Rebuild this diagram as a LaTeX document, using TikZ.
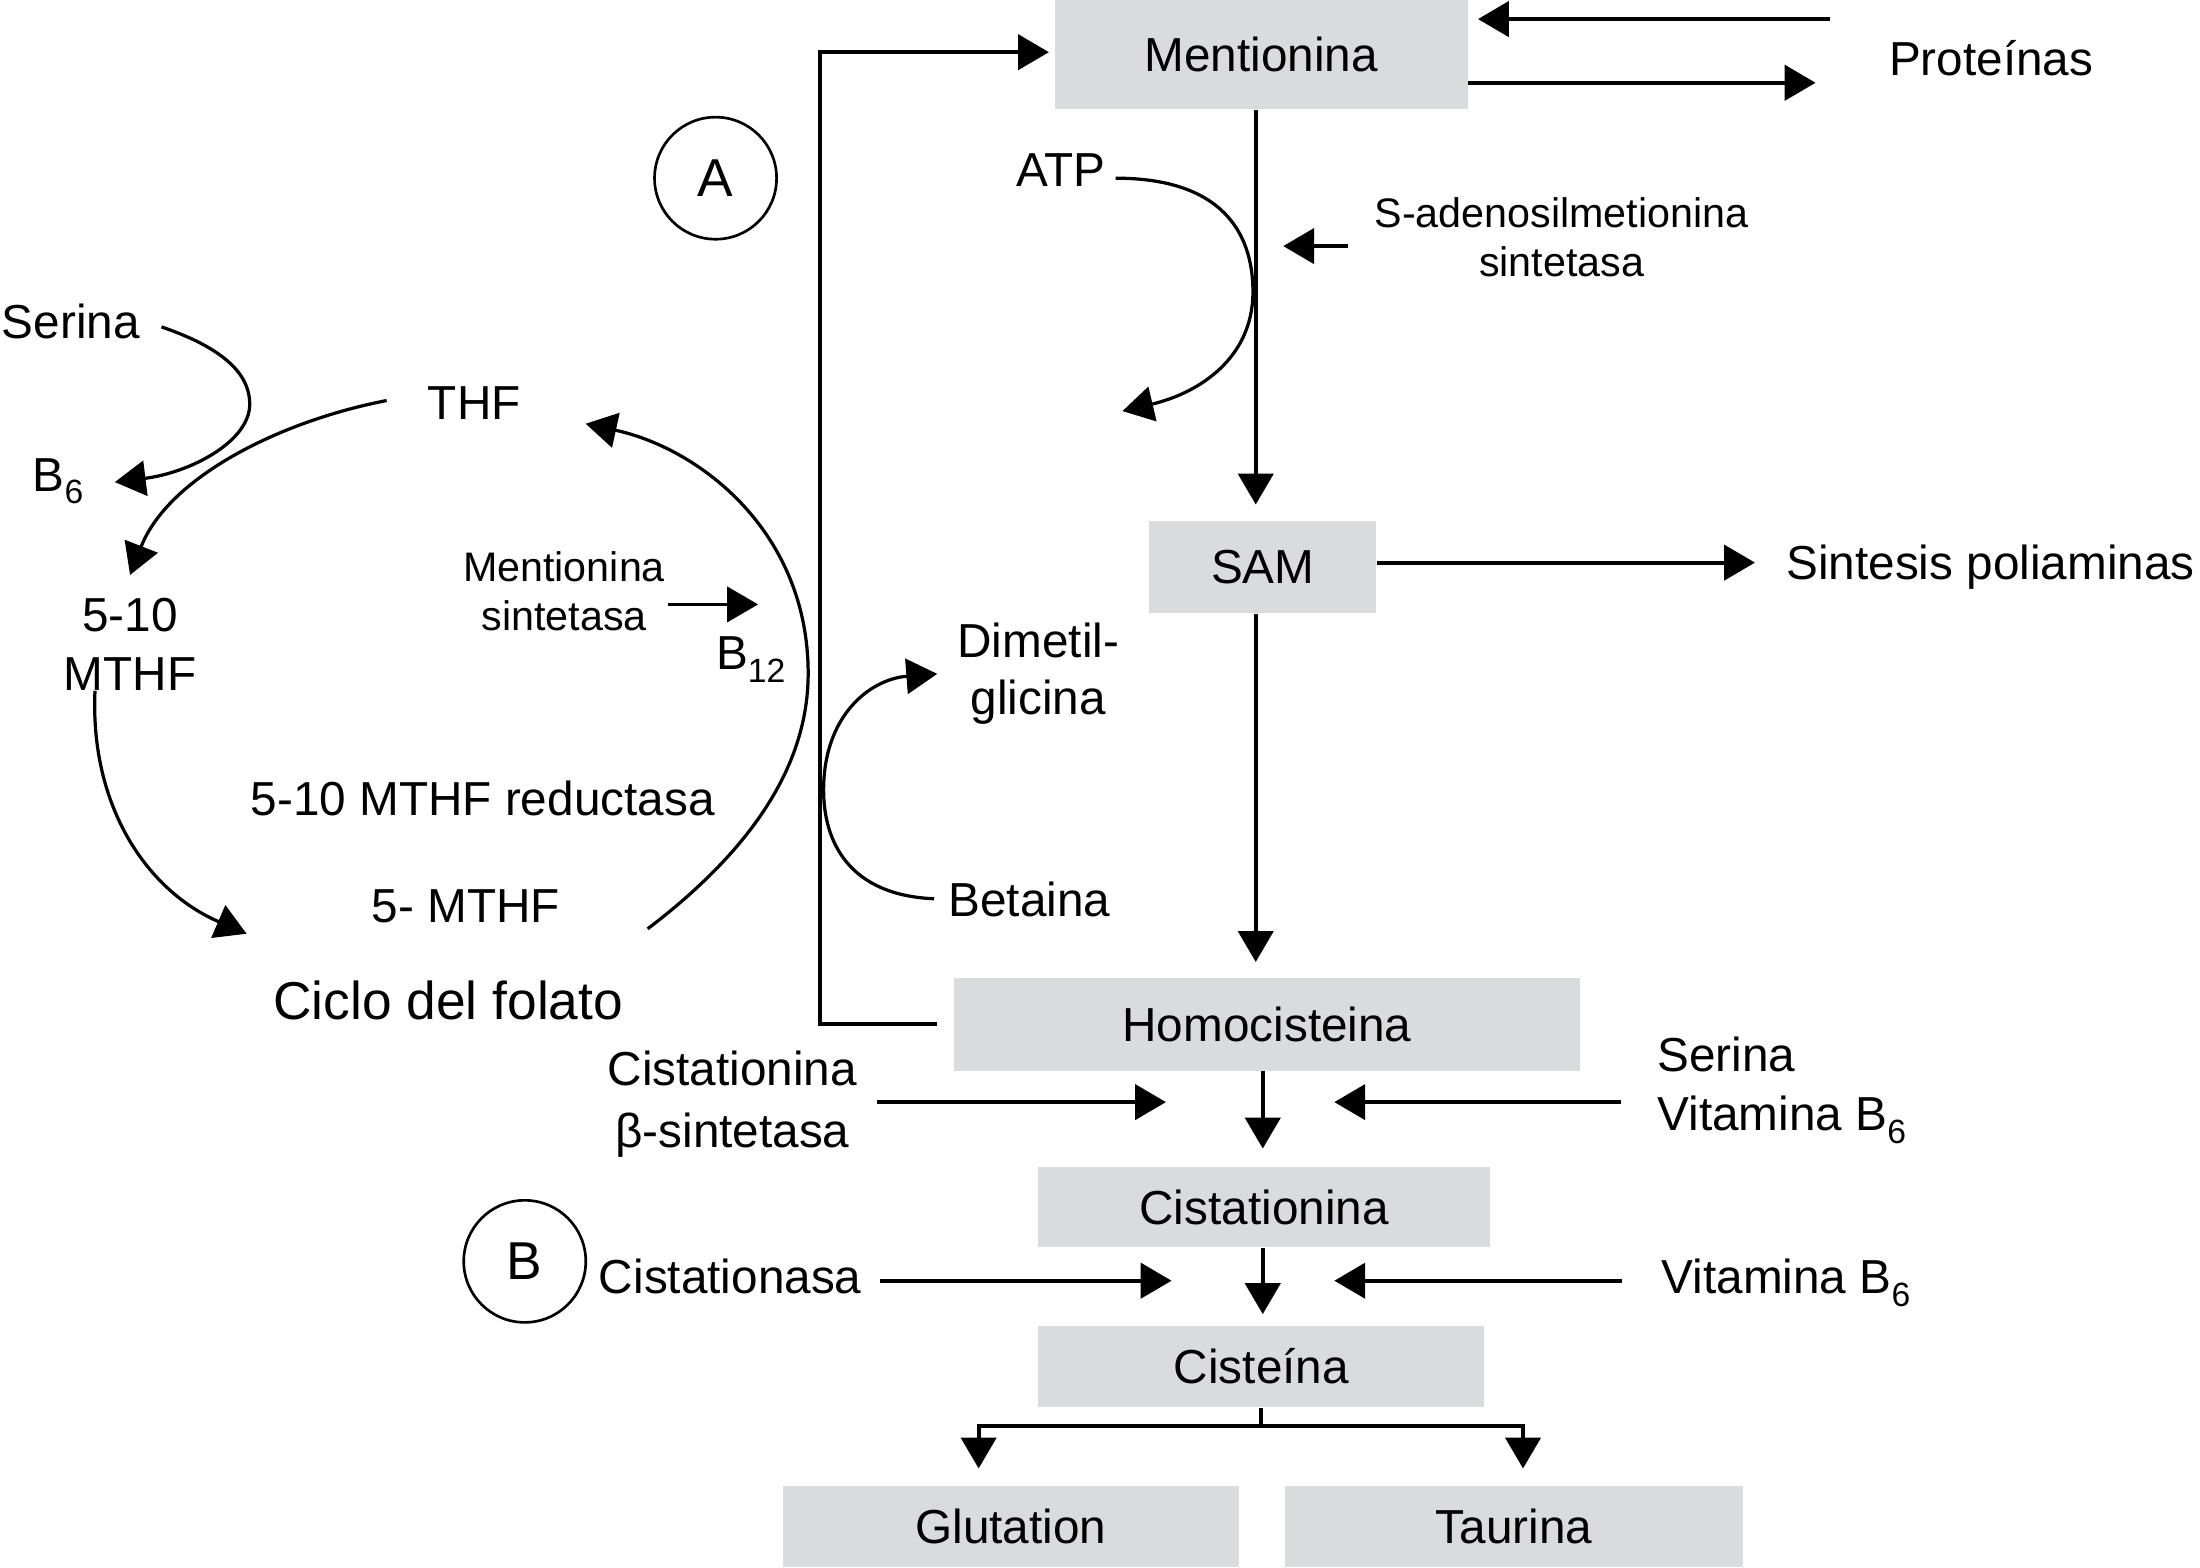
\documentclass[tikz,border=0pt]{standalone}
\usepackage{fontspec}
\setmainfont{Liberation Sans}
\usetikzlibrary{arrows.meta}
\definecolor{boxgray}{RGB}{218,219,221}
\newcommand{\lsub}[1]{\raisebox{-4.5pt}{\fontsize{12}{12}\selectfont #1}}

\tikzset{
  box/.style={fill=boxgray, inner sep=0pt, text height=12.2pt, text depth=0pt},
  lbl/.style={inner sep=0pt, text height=12.2pt, text depth=0pt},
  lblm/.style={inner sep=0pt, anchor=north},
  small/.style={font=\fontsize{14.7}{17.5}\selectfont},
  flow/.style={line width=1.45pt, -{Triangle[length=11pt,width=12.5pt]}},
  curv/.style={line width=1.15pt, -{Triangle[length=11pt,width=12.5pt]}},
  tag/.style={circle, draw, line width=0.95pt, inner sep=0pt, minimum size=43.5pt, font=\fontsize{19}{23}\selectfont}
}

\begin{document}
\begin{tikzpicture}[x=0.5pt,y=0.5pt,yscale=-1,xscale=1,font=\fontsize{17}{21}\selectfont]
\useasboundingbox (0,0) rectangle (1568,1117);

% boxes
\node[box, minimum width=147pt, minimum height=39pt] (ment) at (899,39) {Mentionina};
\node[box, minimum width=81pt, minimum height=33pt] (sam) at (900,404) {SAM};
\node[box, minimum width=223pt, minimum height=33pt] (homo) at (903,730) {Homocisteina};
\node[box, minimum width=161pt, minimum height=28.5pt] (cista) at (901,860.5) {Cistationina};
\node[box, minimum width=159pt, minimum height=29pt] (cist) at (899,974) {Cisteína};
\node[box, minimum width=162.5pt, minimum height=29pt] (glut) at (720.5,1088) {Glutation};
\node[box, minimum width=163pt, minimum height=29pt] (taur) at (1079,1088) {Taurina};

% text nodes, right side
\node[lbl, anchor=west] (prot) at (1346,41.5) {Proteínas};
\node[lbl] (atp) at (756,121) {ATP};
\node[lblm, small, align=center] (sadm) at (1113,140.5) {S-adenosilmetionina\\sintetasa};
\node[lbl, anchor=west] (sint) at (1272.8,401) {Sintesis poliaminas};
\node[lblm, align=center, font=\fontsize{17}{20.25}\selectfont] (dmg) at (740,443.8) {Dimetil-\\glicina};
\node[lbl, anchor=west] (beta) at (675.7,641) {Betaina};
\node[lblm, align=center, font=\fontsize{17}{22}\selectfont] (cbs) at (522,748.8) {Cistationina\\β-sintetasa};
\node[lblm, anchor=north west, align=left] (servit) at (1181,738.8) {Serina\\Vitamina B\lsub{6}};
\node[lbl, anchor=west] (cnasa) at (426.5,910) {Cistationasa};
\node[lbl, anchor=west] (vitc) at (1184,910) {Vitamina B\lsub{6}};
\node[tag] (ca) at (510,127) {A};
\node[tag] (cb) at (374,899) {B};

% text nodes, folate cycle
\node[lbl, anchor=west] (serl) at (1,229) {Serina};
\node[lbl, anchor=west] (bsix) at (23,338) {B\lsub{6}};
\node[lbl] (thf) at (338,287) {THF};
\node[lblm, align=center] (mthf) at (92.7,425.8) {5-10\\MTHF};
\node[lblm, small, align=center] (msint) at (402,392.5) {Mentionina\\sintetasa};
\node[lbl, anchor=west] (bdoce) at (510,465) {B\lsub{12}};
\node[lbl] (red) at (344,569) {5-10 MTHF reductasa};
\node[lbl] (cmthf) at (332,645.5) {5- MTHF};
\node[lbl, font=\fontsize{19}{23}\selectfont, text height=13.6pt] (ciclo) at (319.5,712.8) {Ciclo del folato};

% helper coordinates
\coordinate (axis) at (895,0);
\coordinate (axisb) at (900,0);
\coordinate (rowa) at (0,785.5);
\coordinate (rowb) at (0,912.8);
\coordinate (bend) at (584.7,37.2);
\coordinate (sadmin) at (961,175.4);
\coordinate (atpout) at (800,293);
\coordinate (cyclein) at (461.6,662);

% main pathway
\draw[flow, shorten >=5.5pt] (ment.south -| axis) -- (sam.north -| axis);
\draw[flow, shorten >=5.5pt] (sam.south -| axis) -- (homo.north -| axis);
\draw[flow, shorten >=6.5pt] (homo.south -| axisb) -- (cista.north -| axisb);
\draw[flow, shorten >=4pt] (cista.south -| axisb) -- (cist.north -| axisb);
\draw[line width=1.45pt] (cist.south) -- ++(0,13) coordinate (fork);
\draw[flow, shorten >=6pt] (fork) -| (glut.north -| 697.5,0);
\draw[flow, shorten >=6pt] (fork) -| (taur.north -| 1085.5,0);

% side arrows
\draw[flow, shorten >=3.5pt] ([yshift=-12.7pt]ment.east -| prot.west) ++(-21pt,0) -- ([yshift=-12.7pt]ment.east);
\draw[flow, shorten >=26pt] ([yshift=10pt]ment.east) -- ([yshift=10pt]ment.east -| prot.west);
\draw[flow, shorten >=11pt] (sam.east |- sint.west) -- (sint.west);
\draw[flow, shorten >=9.8pt] (sadmin) -- (sadmin -| axis);
\draw[flow, shorten <=7pt, shorten >=34.5pt] (cbs.east |- rowa) -- (axisb |- rowa);
\draw[flow, shorten <=12.75pt, shorten >=25.5pt] (servit.west |- rowa) -- (axisb |- rowa);
\draw[flow, shorten <=6.5pt, shorten >=32.5pt] (cnasa.east |- rowb) -- (axisb |- rowb);
\draw[flow, shorten <=14pt, shorten >=25.5pt] (vitc.west |- rowb) -- (axisb |- rowb);
\draw[line width=1.45pt, -{Triangle[length=11pt,width=12.5pt]}, shorten >=2pt]
  ([xshift=-6pt]homo.west) -| (bend) -- (bend -| ment.west);

% curved arrows
\draw[curv] ([xshift=3.5pt,yshift=3pt]atp.east) .. controls (870,127) and (893,165) .. (893,208)
  .. controls (893,255) and (855,280) .. (atpout);
\draw[curv, shorten <=5pt] (beta.west) .. controls (605,638) and (587,600) .. (587,563)
  .. controls (587,510) and (620,484) .. ([xshift=-7pt]dmg.west);

% folate cycle
\draw[curv] ([xshift=7.5pt,yshift=2pt]serl.east) .. controls (165,250) and (178,270) .. (178,288)
  .. controls (178,315) and (135,337) .. ([xshift=11pt,yshift=2.8pt]bsix.east);
\draw[curv] ([xshift=-14.5pt,yshift=-0.75pt]thf.west) .. controls (200,300) and (120,340) .. ([yshift=-8pt]mthf.north);
\draw[curv] ([xshift=-12.5pt]mthf.south) .. controls (64,575) and (105,635) .. ([xshift=-44.4pt,yshift=10pt]cmthf.west);
\draw[curv] (cyclein) .. controls (530,610) and (576,550) .. (576,480)
  .. controls (576,380) and (500,320) .. ([xshift=23pt,yshift=7.5pt]thf.east);
\draw[flow, line width=1.2pt] ([xshift=1pt,yshift=4.8pt]msint.east) -- ++(64,0);

\end{tikzpicture}
\end{document}
